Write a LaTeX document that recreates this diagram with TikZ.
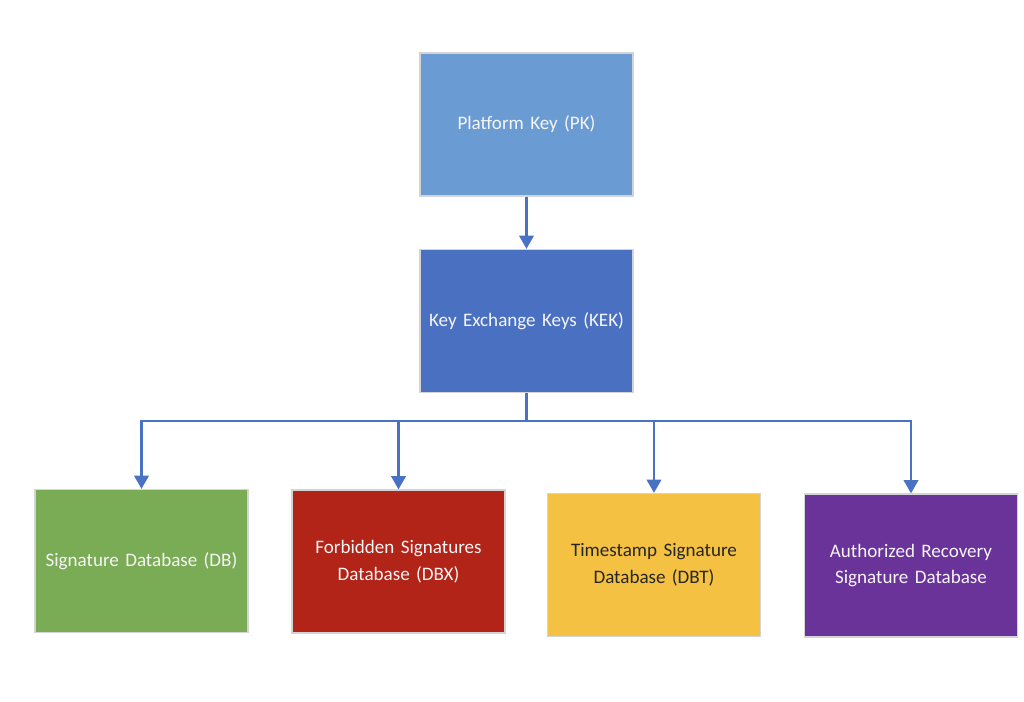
\documentclass[tikz,border=0pt]{standalone}
\usepackage{fontspec}
\setmainfont{Carlito}
\usetikzlibrary{arrows.meta}
\definecolor{pkc}{HTML}{6A9BD2}
\definecolor{kekc}{HTML}{4A70C2}
\definecolor{dbc}{HTML}{7AAB55}
\definecolor{dbxc}{HTML}{B22318}
\definecolor{dbtc}{HTML}{F4C142}
\definecolor{arc}{HTML}{6A3399}
\definecolor{linec}{HTML}{4A72C4}
\definecolor{edgec}{HTML}{D4D4D4}
\begin{document}
\begin{tikzpicture}[x=0.75pt,y=-0.75pt,
  keybox/.style={draw=edgec, line width=1pt, minimum width=213*0.75pt, minimum height=143*0.75pt,
    inner sep=0pt, text width=200*0.75pt, align=center, font=\fontsize{14.3}{20}\selectfont, text=white!96!black},
  conn/.style={draw=linec, line width=1.6pt, -{Triangle[length=10pt,width=11pt]}}]
\useasboundingbox (0,0) rectangle (1024,701);
\fill[white] (0,0) rectangle (1024,701);
\node[keybox, fill=pkc] (pk) at (526.5,124.5) {Platform Key (PK)};
\node[keybox, fill=kekc] (kek) at (526.5,321) {Key Exchange Keys (KEK)};
\node[keybox, fill=dbc] (db) at (141.5,561) {Signature Database (DB)};
\node[keybox, fill=dbxc] (dbx) at (398.5,561.5) {Forbidden Signatures\\Database (DBX)};
\node[keybox, fill=dbtc, text=black!85] (dbt) at (654,565) {Timestamp Signature\\Database (DBT)};
\node[keybox, fill=arc] (ar) at (911,565.5) {Authorized Recovery\\Signature Database};
\coordinate (bus) at (526.5,421);
\draw[conn] (pk) -- (kek);
\draw[draw=linec, line width=1.6pt] (kek.south) -- (bus);
\draw[conn] (bus) -| (db.north);
\draw[conn] (bus) -| (dbx.north);
\draw[conn] (bus) -| (dbt.north);
\draw[conn] (bus) -| (ar.north);
\end{tikzpicture}
\end{document}
